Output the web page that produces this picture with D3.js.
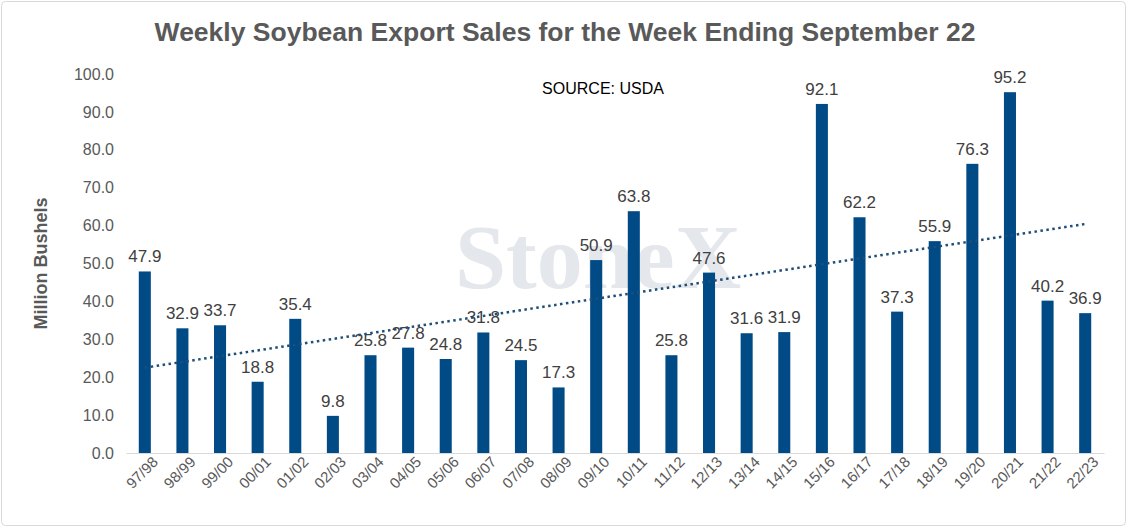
<!DOCTYPE html>
<html><head><meta charset="utf-8">
<script src="https://cdn.jsdelivr.net/npm/d3@7"></script>
<style>body{margin:0;background:#fff;font-family:"Liberation Sans",Arial,sans-serif}</style>
</head><body><div id="chart"></div>
<script>
// chart data
let years = ["97/98","98/99","99/00","00/01","01/02","02/03","03/04","04/05","05/06","06/07","07/08","08/09","09/10","10/11","11/12","12/13","13/14","14/15","15/16","16/17","17/18","18/19","19/20","20/21","21/22","22/23"];
let sales = [47.9,32.9,33.7,18.8,35.4,9.8,25.8,27.8,24.8,31.8,24.5,17.3,50.9,63.8,25.8,47.6,31.6,31.9,92.1,62.2,37.3,55.9,76.3,95.2,40.2,36.9];
let yTicks = [0,10,20,30,40,50,60,70,80,90,100];

let svgWidth = 1127, svgHeight = 527;
let margin = {top: 74, right: 23, bottom: 74, left: 126};
let width = svgWidth - margin.left - margin.right;
let height = svgHeight - margin.top - margin.bottom;

let svg = d3.select("#chart").append("svg")
  .attr("width", svgWidth).attr("height", svgHeight);

svg.append("rect").attr("x", 1.5).attr("y", 1.5)
  .attr("width", svgWidth - 3).attr("height", svgHeight - 3)
  .attr("rx", 4).attr("fill", "#fff").attr("stroke", "#d9d9d9");

svg.append("text").attr("x", 565).attr("y", 41)
  .attr("text-anchor", "middle").attr("font-size", 26.5).attr("font-weight", "bold")
  .attr("fill", "#595959").text("Weekly Soybean Export Sales for the Week Ending September 22");

let g = svg.append("g").attr("transform", `translate(${margin.left},${margin.top})`);

// watermark
g.append("text").attr("x", 472).attr("y", 214).attr("text-anchor", "middle")
  .attr("font-family", "Liberation Serif, serif").attr("font-weight", "bold")
  .attr("font-size", 92).attr("fill", "#e4e7eb").text("StoneX");

let x = d3.scaleBand().domain(years).range([0, width]).paddingInner(0.68).paddingOuter(0.34);
let y = d3.scaleLinear().domain([0, 100]).range([height, 0]);

let yAxis = g.append("g").call(d3.axisLeft(y).tickValues(yTicks).tickFormat(d3.format(".1f")).tickSize(0).tickPadding(12));
yAxis.select(".domain").remove();
yAxis.selectAll("text").attr("font-size", 16).attr("fill", "#595959").attr("font-family", "Liberation Sans, Arial");

let xAxis = g.append("g").attr("transform", `translate(0,${height})`)
  .call(d3.axisBottom(x).tickSize(0).tickPadding(8));
xAxis.select(".domain").attr("stroke", "#d9d9d9");
xAxis.selectAll("text").attr("font-size", 15).attr("fill", "#595959")
  .attr("font-family", "Liberation Sans, Arial")
  .attr("text-anchor", "end").attr("dx", "0.2em").attr("dy", "0.6em")
  .attr("transform", "rotate(-45)");

g.selectAll(".bar").data(sales).enter().append("rect")
  .attr("x", (d, i) => x(years[i])).attr("y", d => y(d))
  .attr("width", x.bandwidth()).attr("height", d => height - y(d))
  .attr("fill", "#004a86");

g.selectAll(".lbl").data(sales).enter().append("text")
  .attr("x", (d, i) => x(years[i]) + x.bandwidth() / 2).attr("y", d => y(d) - 9)
  .attr("text-anchor", "middle").attr("font-size", 17).attr("fill", "#404040")
  .text(d => d.toFixed(1));

// linear trendline
let n = sales.length, idx = d3.range(n);
let mx = d3.mean(idx), my = d3.mean(sales);
let slope = d3.sum(idx, i => (i - mx) * (sales[i] - my)) / d3.sum(idx, i => (i - mx) ** 2);
let icpt = my - slope * mx;
let cx = i => x(years[i]) + x.bandwidth() / 2;
g.append("line").attr("x1", cx(0)).attr("y1", y(icpt))
  .attr("x2", cx(n - 1)).attr("y2", y(icpt + slope * (n - 1)))
  .attr("stroke", "#1f4e79").attr("stroke-width", 2.5).attr("stroke-dasharray", "2.5,3.5");

g.append("text").attr("x", 477).attr("y", 20).attr("text-anchor", "middle")
  .attr("font-size", 16).attr("fill", "#000").text("SOURCE: USDA");

svg.append("text").attr("transform", `translate(47,${margin.top + height / 2}) rotate(-90)`)
  .attr("text-anchor", "middle").attr("font-size", 18).attr("font-weight", "bold")
  .attr("fill", "#595959").text("Million Bushels");
</script></body></html>
